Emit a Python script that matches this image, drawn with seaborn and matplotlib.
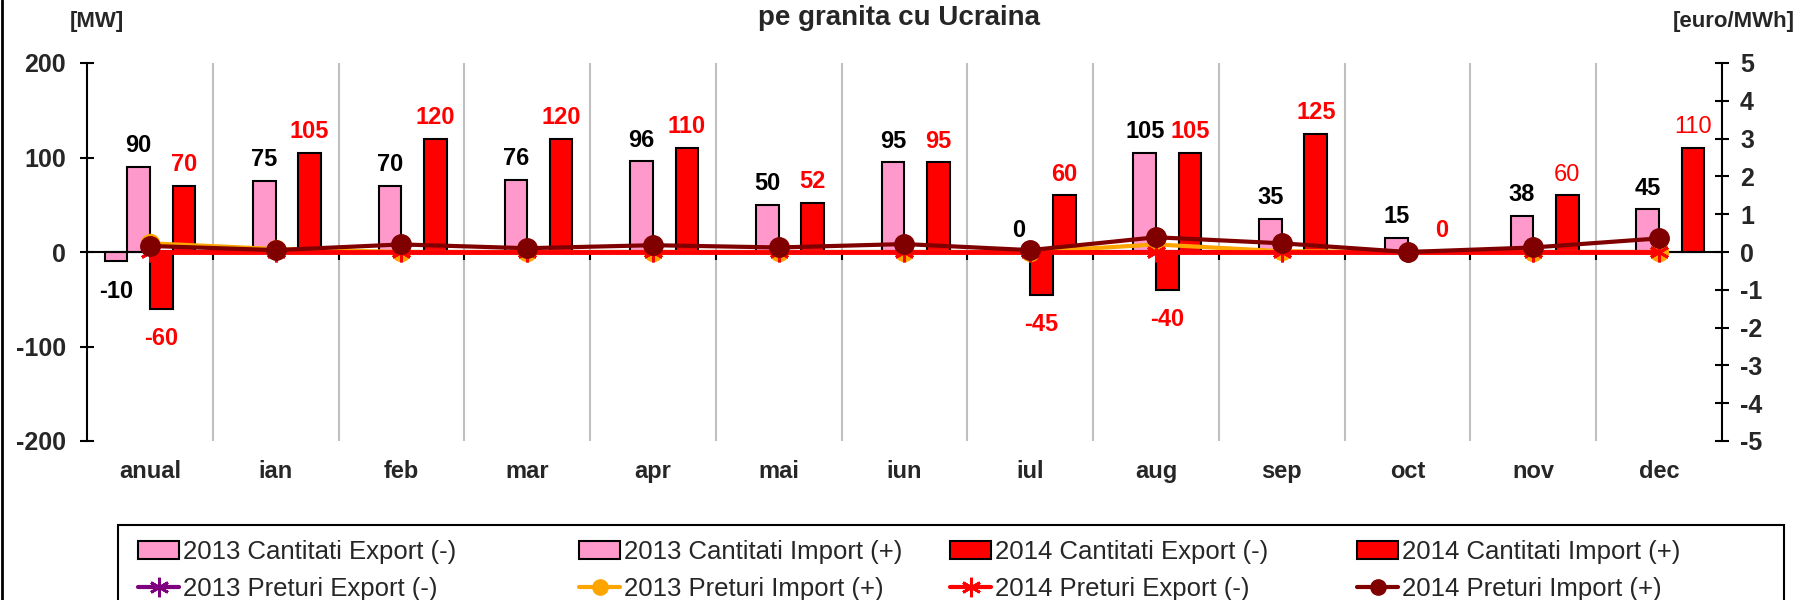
import numpy as np
import pandas as pd
import matplotlib
matplotlib.use('Agg')
import matplotlib.pyplot as plt
import seaborn as sns
from matplotlib.patches import Patch, Rectangle
from matplotlib.lines import Line2D

sns.set_style('white')
plt.rcParams['font.family'] = ['Liberation Sans', 'DejaVu Sans']
plt.rcParams['axes.unicode_minus'] = False

# date
luni = ['anual', 'ian', 'feb', 'mar', 'apr', 'mai', 'iun', 'iul', 'aug', 'sep', 'oct', 'nov', 'dec']
cant_exp_2013 = [-10, 0, 0, 0, 0, 0, 0, 0, 0, 0, 0, 0, 0]
cant_imp_2013 = [90, 75, 70, 76, 96, 50, 95, 0, 105, 35, 15, 38, 45]
cant_exp_2014 = [-60, 0, 0, 0, 0, 0, 0, -45, -40, 0, 0, 0, 0]
cant_imp_2014 = [70, 105, 120, 120, 110, 52, 95, 60, 105, 125, 0, 60, 110]

pret_exp_2013 = [0, 0, 0, 0, 0, 0, 0, 0, 0, 0, 0, 0, 0]
pret_imp_2013 = [0.23, 0.08, 0, 0, 0, 0, 0, 0, 0.2, 0.02, 0, 0, 0]
pret_exp_2014 = [0, 0, 0, 0, 0, 0, 0, 0, 0, 0, 0, 0, 0]
pret_imp_2014 = [0.16, 0.05, 0.2, 0.1, 0.18, 0.12, 0.21, 0.05, 0.39, 0.23, 0.0, 0.12, 0.36]

serii_cant = ['2013 Cantitati Export (-)', '2013 Cantitati Import (+)',
              '2014 Cantitati Export (-)', '2014 Cantitati Import (+)']
serii_pret = ['2013 Preturi Export (-)', '2013 Preturi Import (+)',
              '2014 Preturi Export (-)', '2014 Preturi Import (+)']

roz = '#ff99cc'
rosu = '#ff0000'
violet = '#7f007f'
portocaliu = '#ffa500'
visiniu = '#800000'
culori_bare = {serii_cant[0]: roz, serii_cant[1]: roz, serii_cant[2]: rosu, serii_cant[3]: rosu}

df = pd.DataFrame({
    'luna': luni * 4,
    'MW': cant_exp_2013 + cant_imp_2013 + cant_exp_2014 + cant_imp_2014,
    'serie': [s for s in serii_cant for _ in luni],
})

fig, ax = plt.subplots(figsize=(17.99, 6), dpi=100)
fig.subplots_adjust(left=87 / 1799, right=1722 / 1799, top=1 - 63 / 600, bottom=1 - 441 / 600)

sns.barplot(data=df, x='luna', y='MW', hue='serie', hue_order=serii_cant,
            palette=culori_bare, width=0.72, edgecolor='black', linewidth=1.5,
            saturation=1, legend=False, ax=ax, zorder=3)

ax.set_xlim(-0.5, len(luni) - 0.5)
ax.set_ylim(-200, 200)
ax.set_yticks([-200, -100, 0, 100, 200])
ax.set_xlabel('')
ax.set_ylabel('')

# linii verticale intre luni
ax.set_xticks(np.arange(len(luni) - 1) + 0.5, minor=True)
ax.grid(which='minor', axis='x', color='#c0c0c0', linewidth=1.5, zorder=0)
ax.grid(which='major', visible=False)
ax.axhline(0, color='black', linewidth=1.5, zorder=4)
ax.vlines(np.arange(len(luni) - 1) + 0.5, -8, 0, color='black', linewidth=1.5, zorder=4)

for sp in ['top', 'right', 'bottom']:
    ax.spines[sp].set_visible(False)
ax.spines['left'].set_color('black')
ax.spines['left'].set_linewidth(1.5)
ax.tick_params(axis='y', direction='inout', length=10, width=1.5, pad=10,
               labelsize=18, color='black')
ax.tick_params(axis='x', which='both', length=0, pad=14, labelsize=17)
for t in ax.get_xticklabels() + ax.get_yticklabels():
    t.set_fontweight('bold')

# etichete valori
valori = [cant_exp_2013, cant_imp_2013, cant_exp_2014, cant_imp_2014]
culori_text = ['black', 'black', rosu, rosu]
subtiri_2014 = {'nov', 'dec'}
for k, (cont, vals) in enumerate(zip(ax.containers, valori)):
    for i, (bar, v) in enumerate(zip(cont, vals)):
        if k in (0, 2) and v == 0:
            continue
        xc = bar.get_x() + bar.get_width() / 2
        greutate = 'normal' if (k == 3 and luni[i] in subtiri_2014) else 'bold'
        if v >= 0:
            ax.annotate(f'{v}', (xc, v), xytext=(0, 7), textcoords='offset points',
                        ha='center', va='bottom', fontsize=17, fontweight=greutate,
                        color=culori_text[k], zorder=6)
        else:
            ax.annotate(f'{v}', (xc, v), xytext=(0, -13), textcoords='offset points',
                        ha='center', va='top', fontsize=17, fontweight=greutate,
                        color=culori_text[k], zorder=6)

# preturi pe axa secundara
ax2 = ax.twinx()
x = np.arange(len(luni))
ax2.plot(x, pret_exp_2013, color=violet, lw=3, marker=(6, 2, 0), ms=14, mew=2)
ax2.plot(x, pret_imp_2013, color=portocaliu, lw=3, marker='o', ms=13)
ax2.plot(x, pret_exp_2014, color=rosu, lw=3.5, marker=(6, 2, 0), ms=14, mew=2)
ax2.plot(x, pret_imp_2014, color=visiniu, lw=3, marker='o', ms=14)
ax2.set_ylim(-5, 5)
ax2.set_yticks(range(-5, 6))
for sp in ['top', 'left', 'bottom']:
    ax2.spines[sp].set_visible(False)
ax2.spines['right'].set_color('black')
ax2.spines['right'].set_linewidth(1.5)
ax2.tick_params(axis='y', direction='inout', length=10, width=1.5, pad=8,
                labelsize=18, color='black')
for t in ax2.get_yticklabels():
    t.set_fontweight('bold')
ax2.grid(False)

fig.text(0.5, 1 - 18 / 600, 'pe granita cu Ucraina', ha='center', va='center',
         fontsize=20, fontweight='bold')
fig.text(97 / 1799, 1 - 21 / 600, '[MW]', ha='center', va='center',
         fontsize=16, fontweight='bold')
fig.text(1795 / 1799, 1 - 21 / 600, '[euro/MWh]', ha='right', va='center',
         fontsize=16, fontweight='bold')

# legenda: o coloana pentru fiecare pereche cantitati / preturi
handles_bare = [Patch(facecolor=c, edgecolor='black', lw=1.5) for c in [roz, roz, rosu, rosu]]
handles_linii = [
    Line2D([], [], color=violet, lw=3, marker=(6, 2, 0), ms=14, mew=2),
    Line2D([], [], color=portocaliu, lw=3, marker='o', ms=11),
    Line2D([], [], color=rosu, lw=3, marker=(6, 2, 0), ms=14, mew=2),
    Line2D([], [], color=visiniu, lw=3, marker='o', ms=11),
]
col_x = [138, 579, 950, 1357]
for j in range(4):
    lg = fig.legend([handles_bare[j], handles_linii[j]], [serii_cant[j], serii_pret[j]],
                    loc='upper left', bbox_to_anchor=(col_x[j] / 1799, 1 - 540 / 600),
                    frameon=False, fontsize=18.5, handlelength=1.6, handletextpad=0.15,
                    labelspacing=0.5, borderpad=0, borderaxespad=0)
fig.add_artist(Rectangle((118 / 1799, -0.05), (1784 - 118) / 1799, 0.05 + 1 - 525 / 600,
                         transform=fig.transFigure, fill=False, edgecolor='black', lw=1.5))

fig.add_artist(Line2D([0.001, 0.001], [0, 1], color='black', lw=2, transform=fig.transFigure))

plt.savefig('out.png', dpi=100, facecolor='white')
